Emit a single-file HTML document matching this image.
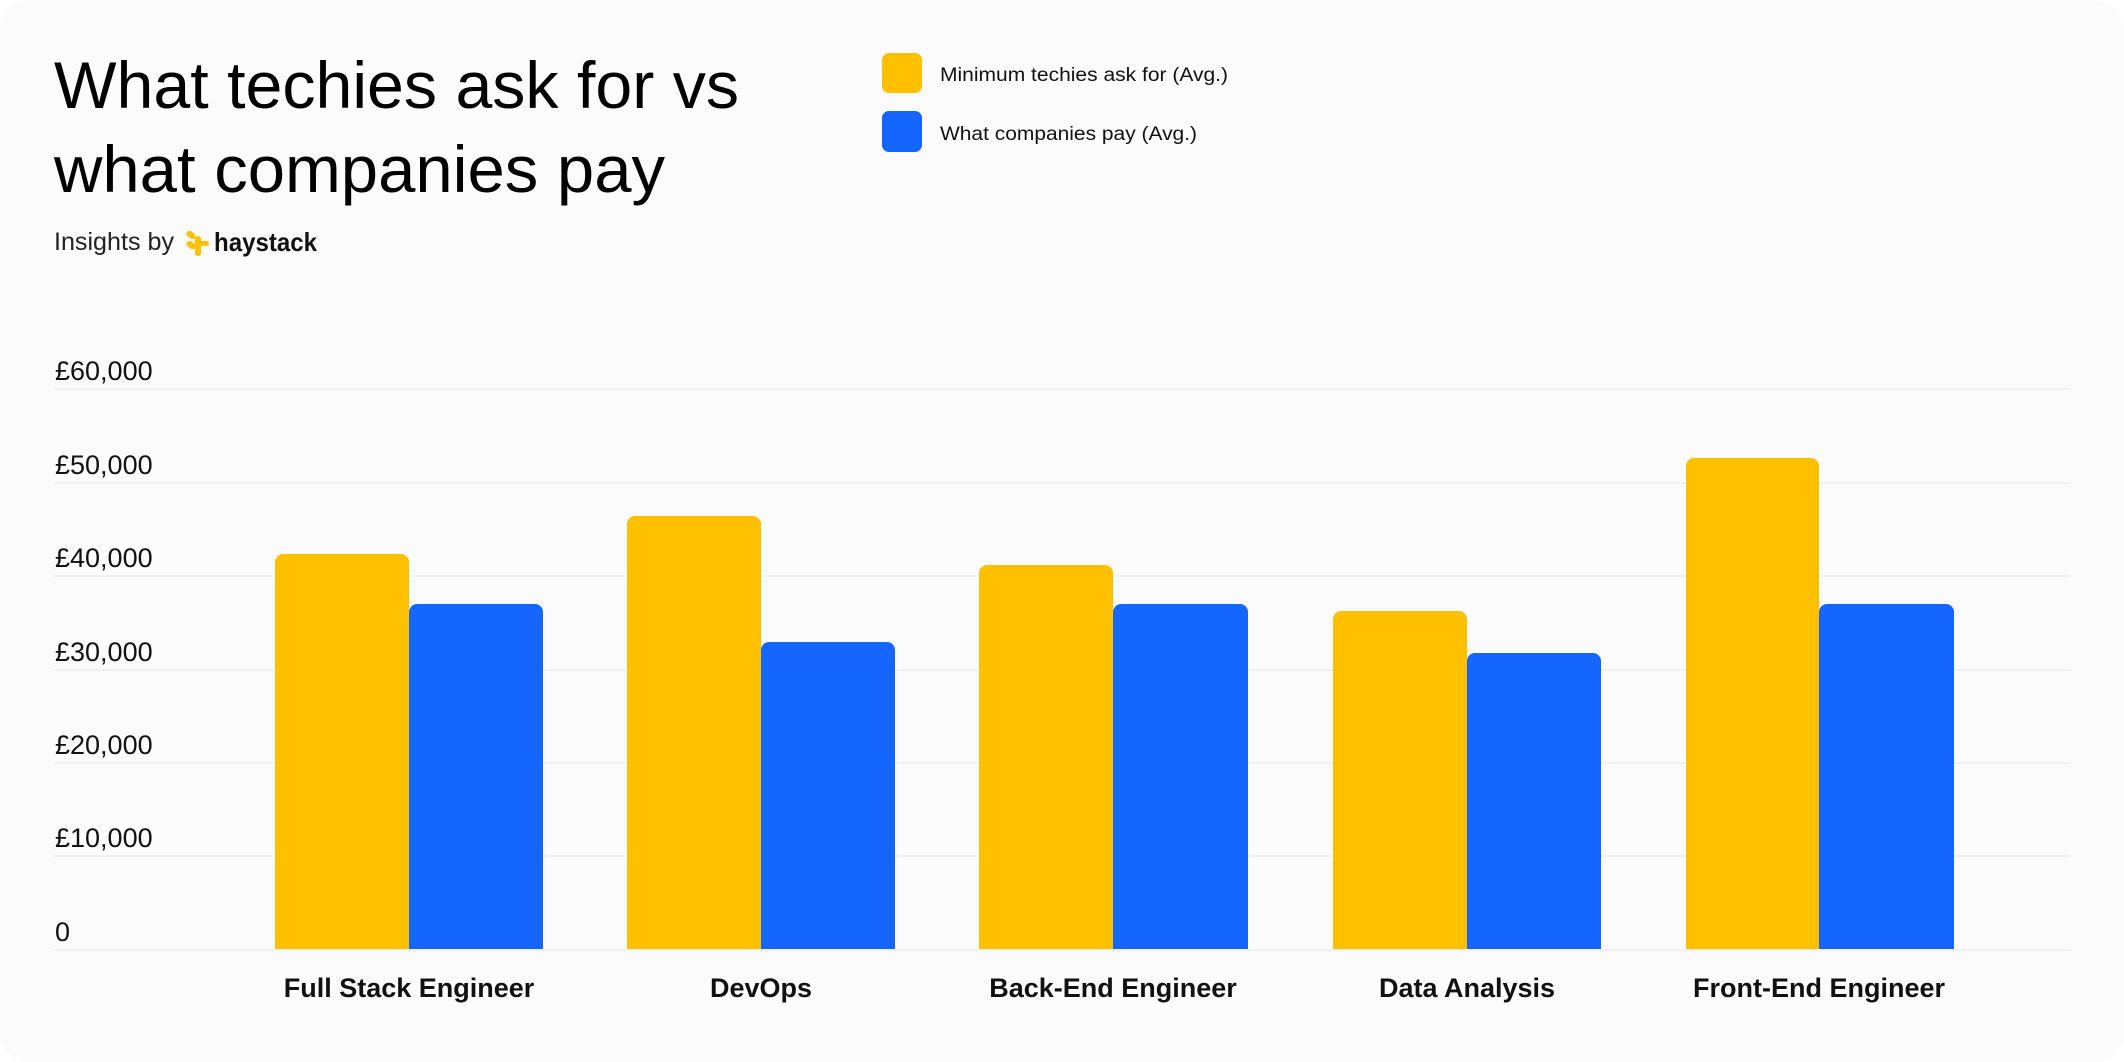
<!DOCTYPE html>
<html><head><meta charset="utf-8"><style>html,body{margin:0;padding:0;background:#fff}svg{display:block}</style></head><body>
<svg width="2124" height="1062" viewBox="0 0 2124 1062" xmlns="http://www.w3.org/2000/svg" font-family="Liberation Sans, sans-serif">
<rect x="0" y="0" width="2124" height="1062" rx="30" fill="#fbfbfb"/>
<text x="54" y="108" font-size="66" fill="#000" textLength="685" lengthAdjust="spacingAndGlyphs">What techies ask for vs</text>
<text x="54" y="192" font-size="66" fill="#000" textLength="611" lengthAdjust="spacingAndGlyphs">what companies pay</text>
<text x="54" y="250" font-size="25" fill="#222" textLength="120" lengthAdjust="spacingAndGlyphs">Insights by</text>
<g fill="#FFC000">
<rect x="186" y="232" width="10" height="6" rx="3" transform="rotate(35 191 235)"/>
<rect x="186" y="242" width="10" height="6" rx="3" transform="rotate(35 191 245)"/>
<rect x="195" y="236" width="6" height="20" rx="3"/>
<rect x="200" y="241" width="9" height="5" rx="2.5"/>
</g>
<text x="214" y="251" font-size="26" font-weight="bold" fill="#111" textLength="103" lengthAdjust="spacingAndGlyphs">haystack</text>
<rect x="882" y="53" width="40" height="40" rx="7" fill="#FFC000"/>
<rect x="882" y="111" width="40" height="41" rx="7" fill="#1466FF"/>
<text x="940" y="81" font-size="19" fill="#111" textLength="288" lengthAdjust="spacingAndGlyphs">Minimum techies ask for (Avg.)</text>
<text x="940" y="140" font-size="19" fill="#111" textLength="257" lengthAdjust="spacingAndGlyphs">What companies pay (Avg.)</text>
<g stroke="#f0f0f0" stroke-width="2">
<line x1="54" x2="2070" y1="389" y2="389"/><line x1="54" x2="2070" y1="483" y2="483"/>
<line x1="54" x2="2070" y1="576" y2="576"/><line x1="54" x2="2070" y1="670" y2="670"/>
<line x1="54" x2="2070" y1="763" y2="763"/><line x1="54" x2="2070" y1="856" y2="856"/>
<line x1="54" x2="2070" y1="950" y2="950"/>
</g>
<g font-size="27" fill="#111">
<text x="55" y="380">£60,000</text><text x="55" y="474">£50,000</text>
<text x="55" y="567">£40,000</text><text x="55" y="661">£30,000</text>
<text x="55" y="754">£20,000</text><text x="55" y="847">£10,000</text>
<text x="55" y="941">0</text>
</g>
<g fill="#FFC000">
<path d="M275 949V562a8 8 0 0 1 8-8H401a8 8 0 0 1 8 8V949Z"/>
<path d="M627 949V524a8 8 0 0 1 8-8H753a8 8 0 0 1 8 8V949Z"/>
<path d="M979 949V573a8 8 0 0 1 8-8H1105a8 8 0 0 1 8 8V949Z"/>
<path d="M1333 949V619a8 8 0 0 1 8-8H1459a8 8 0 0 1 8 8V949Z"/>
<path d="M1686 949V466a8 8 0 0 1 8-8H1811a8 8 0 0 1 8 8V949Z"/>
</g>
<g fill="#1466FF">
<path d="M409 949V612a8 8 0 0 1 8-8H535a8 8 0 0 1 8 8V949Z"/>
<path d="M761 949V650a8 8 0 0 1 8-8H887a8 8 0 0 1 8 8V949Z"/>
<path d="M1113 949V612a8 8 0 0 1 8-8H1240a8 8 0 0 1 8 8V949Z"/>
<path d="M1467 949V661a8 8 0 0 1 8-8H1593a8 8 0 0 1 8 8V949Z"/>
<path d="M1819 949V612a8 8 0 0 1 8-8H1946a8 8 0 0 1 8 8V949Z"/>
</g>
<g font-size="27" font-weight="bold" fill="#111" text-anchor="middle">
<text x="409" y="997">Full Stack Engineer</text>
<text x="761" y="997">DevOps</text>
<text x="1113" y="997">Back-End Engineer</text>
<text x="1467" y="997">Data Analysis</text>
<text x="1819" y="997">Front-End Engineer</text>
</g>
</svg>
</body></html>
